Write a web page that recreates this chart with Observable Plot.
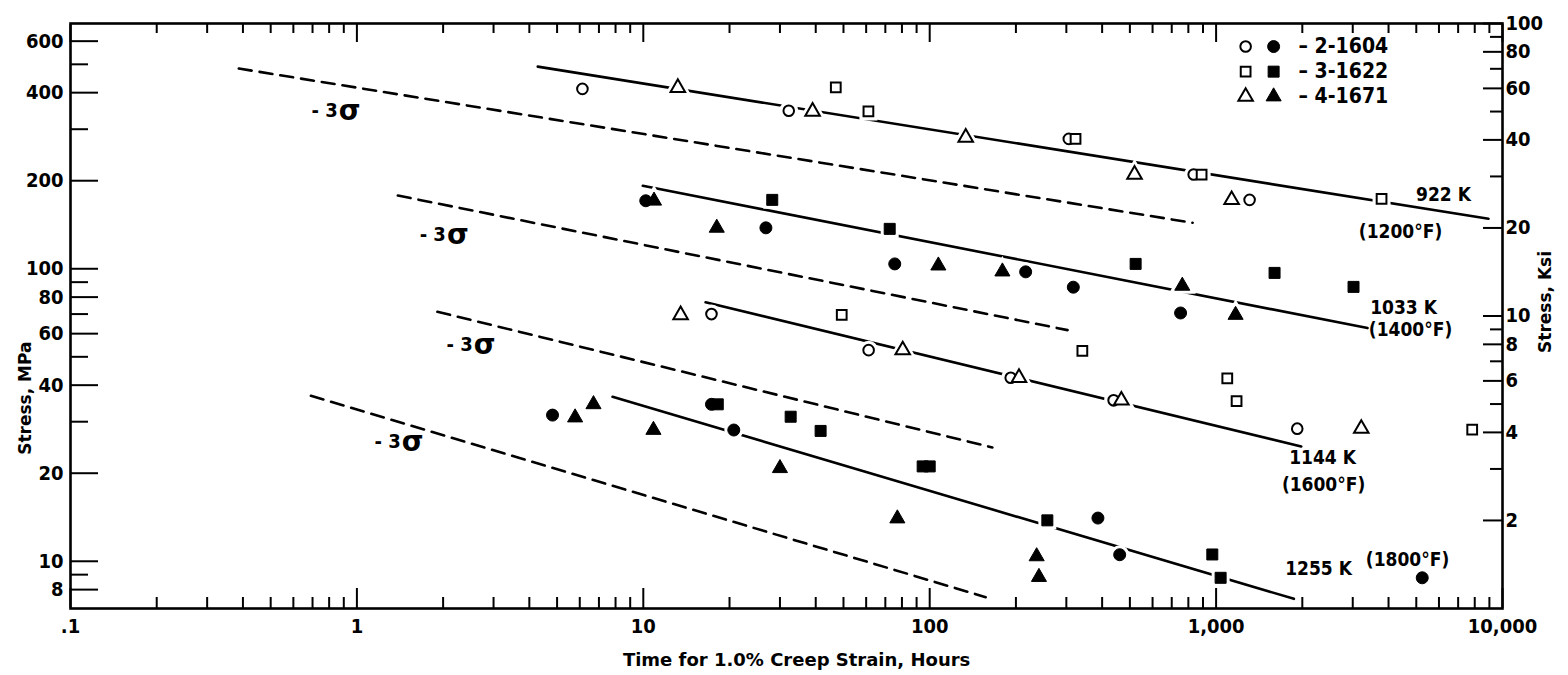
<!DOCTYPE html>
<html>
<head>
<meta charset="utf-8">
<script src="https://cdn.jsdelivr.net/npm/d3@7"></script>
<script src="https://cdn.jsdelivr.net/npm/@observablehq/plot@0.6"></script>
<style>
  html, body { margin: 0; padding: 0; background: #fff; }
  #chart svg { display: block; }
</style>
</head>
<body>
<div id="chart"></div>
<script>
// ---------- data ----------
const MPA_PER_KSI = 6.894757;
const heats = ["2-1604", "3-1622", "4-1671"];
const heatSymbols = ["circle", "square", "triangle"];

// [heat, hours for 1.0% creep strain, stress MPa]
const pts922 = [
  ["2-1604", 6.13, 412], ["4-1671", 13.2, 416], ["3-1622", 47.0, 417],
  ["2-1604", 32.2, 347], ["4-1671", 39.0, 345], ["3-1622", 61.1, 345],
  ["4-1671", 133.6, 281], ["2-1604", 306, 278], ["3-1622", 323, 278],
  ["4-1671", 519, 210], ["2-1604", 835, 210], ["3-1622", 890, 210],
  ["4-1671", 1133, 172], ["2-1604", 1309, 172], ["3-1622", 3782, 173.5]
];
const pts1033 = [
  ["2-1604", 10.2, 170.8], ["4-1671", 10.9, 170.8], ["4-1671", 18.05, 138],
  ["2-1604", 26.8, 138], ["3-1622", 28.2, 172], ["3-1622", 72.5, 136.9],
  ["2-1604", 75.5, 103.9], ["4-1671", 107.2, 102.5], ["4-1671", 179.4, 97.8],
  ["2-1604", 216.3, 97.6], ["2-1604", 317.3, 86.5], ["3-1622", 523.6, 103.9],
  ["4-1671", 762, 87.4], ["3-1622", 1600, 96.8], ["2-1604", 751.6, 70.6],
  ["4-1671", 1169.5, 69.5], ["3-1622", 3019, 86.7]
];
const pts1144 = [
  ["4-1671", 13.5, 69.5], ["2-1604", 17.3, 70.0], ["3-1622", 49.3, 69.5],
  ["2-1604", 61.2, 52.7], ["4-1671", 80.5, 52.7], ["3-1622", 341.2, 52.4],
  ["2-1604", 191.8, 42.4], ["4-1671", 205, 42.4], ["2-1604", 438.7, 35.5],
  ["4-1671", 466.9, 35.5], ["3-1622", 1094, 42.2], ["3-1622", 1179, 35.3],
  ["2-1604", 1920, 28.4], ["4-1671", 3213, 28.4], ["3-1622", 7838, 28.2]
];
const pts1255 = [
  ["2-1604", 4.82, 31.6], ["4-1671", 5.78, 31.0], ["4-1671", 6.70, 34.4],
  ["4-1671", 10.85, 28.1], ["2-1604", 17.3, 34.4], ["3-1622", 18.2, 34.4],
  ["2-1604", 20.7, 28.1], ["4-1671", 30.0, 20.8], ["3-1622", 32.7, 31.2],
  ["3-1622", 41.6, 27.9], ["3-1622", 94.5, 21.1], ["3-1622", 100, 21.1],
  ["4-1671", 77.1, 14.0], ["3-1622", 257.5, 13.8], ["2-1604", 386.7, 14.05],
  ["4-1671", 236.3, 10.39], ["4-1671", 240.7, 8.83], ["2-1604", 460.6, 10.53],
  ["3-1622", 970, 10.55], ["3-1622", 1037, 8.78], ["2-1604", 5245, 8.78]
];

// fitted lines (solid) and -3 sigma lines (dashed): [hours, MPa] end points
const fit922 = [[4.28, 491], [8935, 148.2]];
const sigma922 = [[0.387, 483.6], [828, 143.6]];
const fit1033 = [[9.96, 192.2], [3379, 62.7]];
const sigma1033 = [[1.39, 178], [303, 61.7]];
const fit1144 = [[16.5, 76.8], [1983, 24.7]];
const sigma1144 = [[1.91, 71.3], [165.5, 24.5]];
const fit1255 = [[7.81, 36.5], [1869, 7.44]];
const sigma1255 = [[0.691, 36.8], [156.9, 7.54]];

// annotations: [text, hours, MPa]
const tempLabels = [
  ["922 K", 6223, 179], ["(1200°F)", 4405, 133.7],
  ["1033 K", 4513, 73.6], ["(1400°F)", 4775, 61.6],
  ["1144 K", 2353, 22.5], ["(1600°F)", 2373, 18.3],
  ["1255 K", 2279, 9.38], ["(1800°F)", 4660, 10.07]
];
const sigmaLabels = [[0.858, 347], [2.045, 130.6], [2.54, 54.9], [1.424, 25.6]];

// legend placement (hours, MPa)
const legendOpenX = 1268, legendFilledX = 1588, legendTextX = 1941;
const legendRowY = [575, 472, 388];

// ticks
const xMajor = [0.1, 1, 10, 100, 1000, 10000];
const xLabels = [".1", "1", "10", "100", "1,000", "10,000"];
const xMinor = [];
for (const dec of [0.1, 1, 10, 100, 1000]) for (let k = 2; k <= 9; k++) xMinor.push(dec * k);
const yMajorMPa = [600, 400, 200, 100, 80, 60, 40, 20, 10, 8];
const yMinorMPa = [500, 300, 90, 70, 50, 30, 9];
const ksiMajor = [100, 80, 60, 40, 20, 10, 8, 6, 4, 2];
const ksiMinor = [90, 70, 50, 30, 9, 7, 5, 3];

// ---------- build ----------
function rows(arr, open) {
  return arr.map(([heat, t, s]) => ({heat, t, s, open, shape: heatSymbols[heats.indexOf(heat)]}));
}
const allPts = [...rows(pts922, true), ...rows(pts1033, false), ...rows(pts1144, true), ...rows(pts1255, false)];
const rOf = {circle: 6, square: 6.2, triangle: 5.6};
const rOpen = {circle: 5.3, square: 5.5, triangle: 5.4};

const legendPts = [];
heats.forEach((h, i) => {
  legendPts.push({shape: heatSymbols[i], open: true, t: legendOpenX, s: legendRowY[i]});
  legendPts.push({shape: heatSymbols[i], open: false, t: legendFilledX, s: legendRowY[i]});
});

const font = "'DejaVu Sans Condensed', 'DejaVu Sans', sans-serif";
const titleFont = "'DejaVu Sans', sans-serif";
const marks = [];

// lines
for (const f of [fit922, fit1033, fit1144, fit1255])
  marks.push(Plot.line(f, {x: d => d[0], y: d => d[1], stroke: "black", strokeWidth: 2.6}));
for (const f of [sigma922, sigma1033, sigma1144, sigma1255])
  marks.push(Plot.line(f, {x: d => d[0], y: d => d[1], stroke: "black", strokeWidth: 2.6, strokeDasharray: "13,8"}));

// halos then markers
const pointsAll = [...allPts, ...legendPts];
for (const shape of heatSymbols) {
  marks.push(Plot.dot(pointsAll.filter(d => d.shape === shape), {x: "t", y: "s", symbol: shape, r: rOf[shape], fill: "white", stroke: "white", strokeWidth: 7}));
}
for (const shape of heatSymbols) {
  marks.push(Plot.dot(pointsAll.filter(d => d.shape === shape && d.open), {x: "t", y: "s", symbol: shape, r: rOpen[shape], fill: "white", stroke: "black", strokeWidth: 2}));
  marks.push(Plot.dot(pointsAll.filter(d => d.shape === shape && !d.open), {x: "t", y: "s", symbol: shape, r: rOf[shape], fill: "black", stroke: "black", strokeWidth: 1}));
}

// legend text
marks.push(Plot.text(heats, {x: () => legendTextX, y: (d, i) => legendRowY[i], text: d => "– " + d, textAnchor: "start", fontSize: 21, fontFamily: font, fontWeight: "bold"}));

// temperature labels
marks.push(Plot.text(tempLabels, {x: d => d[1], y: d => d[2], text: d => d[0], fontSize: 19, fontFamily: font, fontWeight: "bold"}));
// -3 sigma labels
marks.push(Plot.text(sigmaLabels, {x: d => d[0], y: d => d[1], text: () => "- 3", textAnchor: "end", fontSize: 20, fontFamily: font, fontWeight: "bold"}));
marks.push(Plot.text(sigmaLabels, {x: d => d[0], y: d => d[1], text: () => "σ", textAnchor: "start", fontSize: 28, fontFamily: titleFont, fontWeight: "bold", dx: 1}));

// axes: tick marks (pointing inward)
const blank = () => "";
const tickAxis = (fn, o) => fn({...o, tickFormat: blank, label: null, strokeWidth: 2});
marks.push(tickAxis(Plot.axisX, {anchor: "bottom", ticks: xMinor, tickSize: -11}));
marks.push(tickAxis(Plot.axisX, {anchor: "bottom", ticks: xMajor, tickSize: -20}));
marks.push(tickAxis(Plot.axisX, {anchor: "top", ticks: xMinor, tickSize: -9}));
marks.push(tickAxis(Plot.axisX, {anchor: "top", ticks: xMajor, tickSize: -18}));
marks.push(tickAxis(Plot.axisY, {anchor: "left", ticks: yMinorMPa, tickSize: -18}));
marks.push(tickAxis(Plot.axisY, {anchor: "left", ticks: yMajorMPa, tickSize: -28}));
marks.push(tickAxis(Plot.axisY, {anchor: "right", ticks: ksiMinor.map(k => k * MPA_PER_KSI), tickSize: -13}));
marks.push(tickAxis(Plot.axisY, {anchor: "right", ticks: ksiMajor.map(k => k * MPA_PER_KSI), tickSize: -20}));

// tick labels
marks.push(Plot.text(xMajor, {x: d => d, frameAnchor: "bottom", lineAnchor: "top", dy: 10, text: (d, i) => xLabels[i], fontSize: 20, fontFamily: font, fontWeight: "bold"}));
marks.push(Plot.text(yMajorMPa, {y: d => d, frameAnchor: "left", textAnchor: "end", lineAnchor: "middle", dx: -7, text: d => String(d), fontSize: 20, fontFamily: font, fontWeight: "bold"}));
marks.push(Plot.text(ksiMajor, {y: k => k * MPA_PER_KSI, frameAnchor: "right", textAnchor: "start", lineAnchor: "middle", dx: 3, text: k => String(k), fontSize: 20, fontFamily: font, fontWeight: "bold"}));

// axis titles
marks.push(Plot.text(["Stress, MPa"], {frameAnchor: "left", y: () => 36.1, text: d => d, rotate: -90, textAnchor: "middle", lineAnchor: "middle", dx: -45, fontSize: 17, fontFamily: titleFont, fontWeight: "bold"}));
marks.push(Plot.text(["Stress, Ksi"], {frameAnchor: "right", y: () => 77, text: d => d, rotate: -90, textAnchor: "middle", lineAnchor: "middle", dx: 43, fontSize: 17, fontFamily: titleFont, fontWeight: "bold"}));
marks.push(Plot.text(["Time for 1.0% Creep Strain, Hours"], {frameAnchor: "bottom", x: () => 34.3, text: d => d, textAnchor: "middle", lineAnchor: "middle", dy: 52, fontSize: 18, fontFamily: titleFont, fontWeight: "bold"}));

marks.push(Plot.frame({stroke: "black", strokeWidth: 2.6}));

const chart = Plot.plot({
  width: 1568,
  height: 675,
  marginLeft: 70,
  marginRight: 66,
  marginTop: 23,
  marginBottom: 67,
  style: {background: "white", color: "black", fontFamily: font},
  x: {type: "log", domain: [0.1, 10000]},
  y: {type: "log", domain: [MPA_PER_KSI, 100 * MPA_PER_KSI]},
  marks
});
document.getElementById("chart").appendChild(chart);
</script>
</body>
</html>
